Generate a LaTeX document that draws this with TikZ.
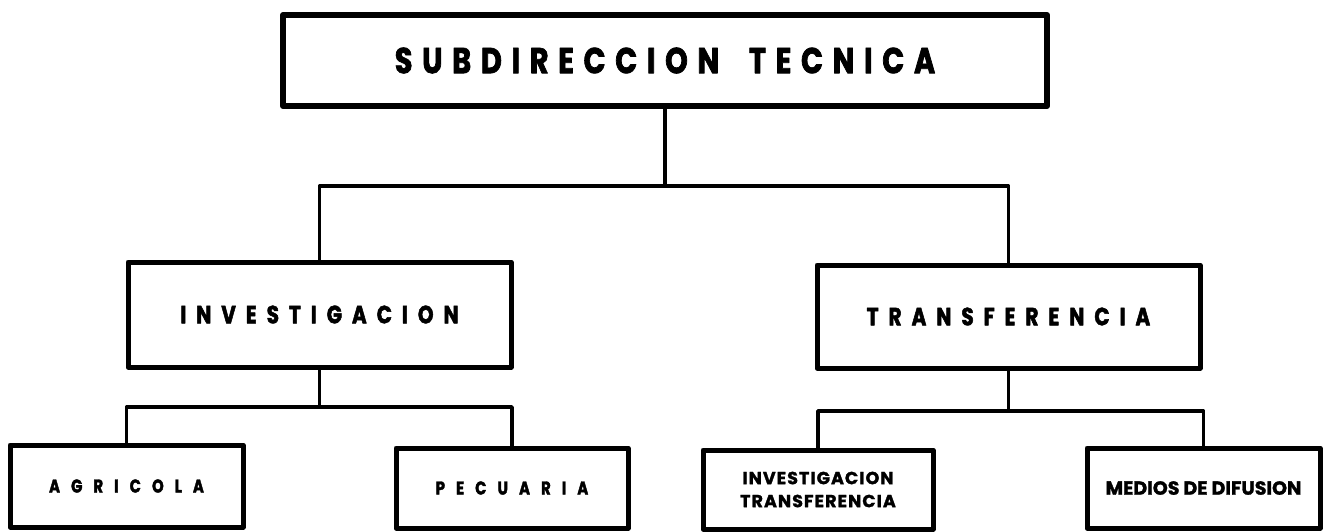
\documentclass[tikz,border=0pt]{standalone}
\usepackage{fontspec}
\newfontfamily\lblfont{Poppins}[FakeStretch=0.8, FakeBold=2]
\newfontfamily\lblwide{Poppins}[FakeBold=1.5]
\tikzset{
  box/.style={draw, rectangle, inner sep=0pt, line width=5pt, line join=round},
  conn/.style={draw, line width=3.5pt, line join=round},
  topfont/.style={font=\lblfont\bfseries\addfontfeatures{LetterSpace=27}\fontsize{36}{40}\selectfont},
  midfont/.style={font=\lblfont\bfseries\addfontfeatures{LetterSpace=40}\fontsize{25}{28}\selectfont},
  lowfont/.style={font=\lblfont\bfseries\addfontfeatures{LetterSpace=60}\fontsize{18.5}{20}\selectfont},
  densefont/.style={font=\lblwide\bfseries\addfontfeatures{LetterSpace=6}\fontsize{17.5}{23}\selectfont},
  medfont/.style={font=\lblwide\bfseries\fontsize{19}{22}\selectfont},
}
\begin{document}
\begin{tikzpicture}[x=1pt,y=-1pt]
\useasboundingbox (0,0) rectangle (1329,531);
\node[box, line width=6pt, minimum width=764pt, minimum height=91pt, topfont] (top) at (665,60.5) {SUBDIRECCION\hspace{14pt} TECNICA};
\node[box, minimum width=383pt, minimum height=105pt, midfont] (inv) at (319.5,314.5) {INVESTIGACION};
\node[box, minimum width=383pt, minimum height=103pt, midfont] (tra) at (1008.5,316.5) {TRANSFERENCIA};
\node[box, minimum width=233pt, minimum height=82pt, lowfont] (agr) at (126.5,486) {AGRICOLA};
\node[box, minimum width=232pt, minimum height=80pt, lowfont] (pec) at (512,488) {PECUARIA};
\node[box, minimum width=230pt, minimum height=79pt, densefont, align=center] (invt) at (818,489.5) {INVESTIGACION\\TRANSFERENCIA};
\node[box, minimum width=233pt, minimum height=80pt, medfont] (med) at (1203.5,488) {MEDIOS DE DIFUSION};
\coordinate (j1) at (665,186);
\coordinate (j2) at (319.5,407);
\coordinate (j3) at (1008.5,411);
\draw[conn] (top.south) -- (j1);
\draw[conn] (inv.north) |- (j1) -| (tra.north);
\draw[conn] (inv.south) -- (j2);
\draw[conn] (agr.north) |- (j2) -| (pec.north);
\draw[conn] (tra.south) -- (j3);
\draw[conn] (invt.north) |- (j3) -| (med.north);
\end{tikzpicture}
\end{document}
